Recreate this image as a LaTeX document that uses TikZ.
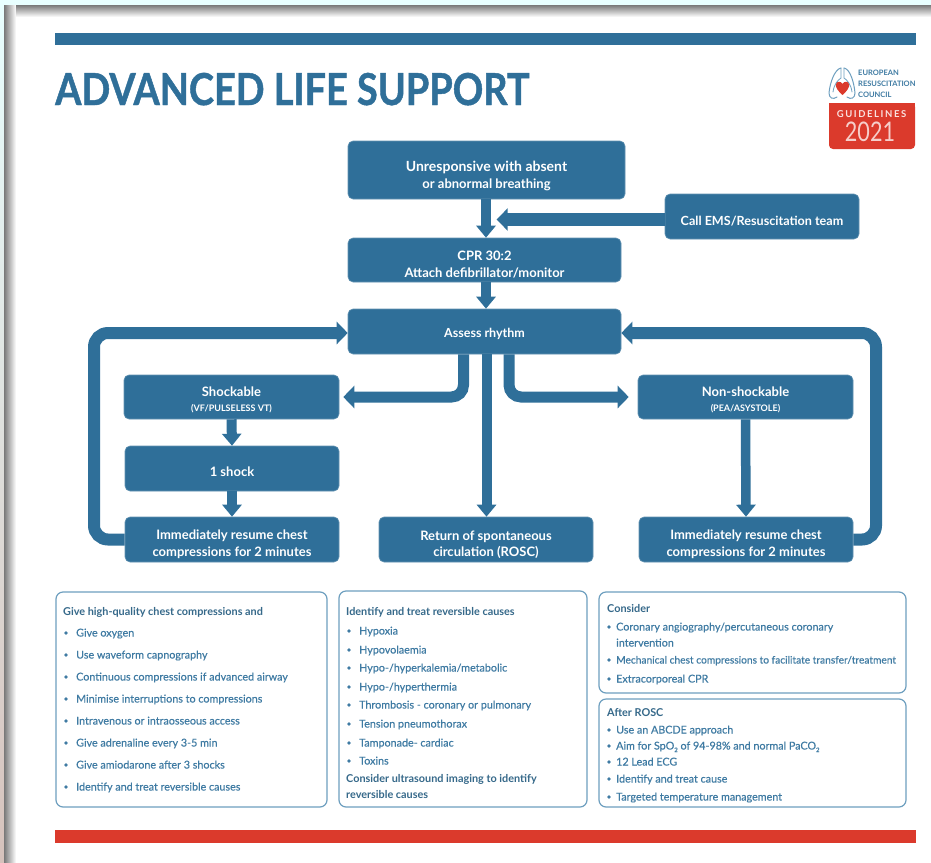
\documentclass[tikz,border=0pt]{standalone}
\usepackage{fontspec}
\setmainfont{Lato}
\newfontfamily\medfont[FakeBold=0.4]{Lato}
\newfontfamily\heavyfont[UprightFont=* Bold,FakeBold=1,FakeStretch=0.86]{Lato}
\newfontfamily\narrowfont[FakeStretch=0.8]{Lato}
\usetikzlibrary{arrows.meta}
\definecolor{ercblue}{HTML}{2F6F99}
\definecolor{ercred}{HTML}{DB3A2C}
\definecolor{infoblue}{HTML}{3F7BA3}
\definecolor{boxedge}{HTML}{6E9FBF}
\definecolor{stripa}{HTML}{E8FFFF}
\definecolor{stripb}{HTML}{E9DCD8}
\definecolor{stripc}{HTML}{D6C2BC}
\tikzset{
  flowbox/.style={fill=ercblue,draw=ercblue!75!white,line width=0.6pt,rounded corners=5pt,inner sep=0pt},
  flowtext/.style={text=white,align=center,inner sep=0pt,font=\bfseries\fontsize{13}{16.5}\selectfont},
  infobox/.style={draw=boxedge,line width=1.2pt,rounded corners=7pt,fill=white,inner sep=0pt},
  flow/.style={draw=ercblue,line width=#1,-{Triangle[width=22pt,length=11pt,fill=ercblue]}},
  flow/.default=12pt,
  flowdown/.style={draw=ercblue,line width=#1,-{Triangle[width=19pt,length=12pt,fill=ercblue]}},
  flowdown/.default=10pt,
  infohead/.style={text=infoblue!85!black,anchor=base west,inner sep=0pt,font=\bfseries\fontsize{10.85}{12}\selectfont},
  infoitem/.style={text=infoblue,anchor=base west,inner sep=0pt,font=\medfont\fontsize{10.75}{12}\selectfont},
  logotext/.style={anchor=base west,inner sep=0pt,text=infoblue,font=\bfseries\fontsize{7.5}{9}\selectfont},
}
% name, x0, y0, x1, y1, text drop, text
\newcommand{\flowat}[7]{\node[flowbox,minimum width=#4 pt-#2 pt,minimum height=#5 pt-#3 pt] (#1) at ({(#2+#4)/2},{(#3+#5)/2}) {};
  \node[flowtext] (#1-text) at ([yshift=-#6 pt]#1.center) {#7};}
\newcommand{\infoat}[5]{\node[infobox,minimum width=#4 pt-#2 pt,minimum height=#5 pt-#3 pt] (#1) at ({(#2+#4)/2},{(#3+#5)/2}) {};}
\newcommand{\headat}[3]{\node[infohead] at (#1,#2+3.5) {#3};}
\newcommand{\itemat}[4]{\fill[infoblue] (#1,#3) circle (1.8pt);\node[infoitem] at (#2,#3+3.5) {#4};}
\newcommand{\subtwo}{\raisebox{-2.5pt}{\fontsize{6}{6}\selectfont 2}}
\begin{document}
\begin{tikzpicture}[x=1pt,y=-1pt]
\useasboundingbox (0,0) rectangle (931,862);
% page background and scan shadow
\fill[white] (0,0) rectangle (931,862);
\fill[stripa] (0,0) rectangle (931,5);
\shade[top color=stripa,middle color=stripb,bottom color=stripc] (0,0) rectangle (4,862);
\shade[left color=gray!95!black,right color=white] (4,5) rectangle (16,862);
\shade[top color=gray!95!black,bottom color=white] (16,5) rectangle (931,17);
% rules
\fill[ercblue] (55,33) rectangle (916,45);
\fill[ercred] (55,830) rectangle (916,843);
% title
\node[anchor=base west,inner sep=0pt,text=ercblue,font=\heavyfont\fontsize{44}{46}\selectfont] (title) at (55,105) {ADVANCED LIFE SUPPORT};
% logo
\draw[boxedge,line width=1pt,line join=round,line cap=round] (841,68) .. controls (835,69) and (830,82) .. (829,93) .. controls (829,98) and (833,100) .. (837,97);
\draw[boxedge,line width=1pt,line join=round,line cap=round] (844,68) .. controls (850,69) and (854,82) .. (855,93) .. controls (855,98) and (851,100) .. (847,97);
\draw[boxedge,line width=0.8pt,line cap=round] (841,68) -- (841,78) .. controls (838,80) and (834,84) .. (833,92);
\draw[boxedge,line width=0.8pt,line cap=round] (844,68) -- (844,78) .. controls (847,80) and (851,84) .. (852,92);
\fill[ercred] (842.5,95) .. controls (838,91) and (835,87) .. (836,84) .. controls (837,81) and (841,81) .. (842.5,84) .. controls (844,81) and (848,81) .. (849,84) .. controls (850,87) and (847,91) .. (842.5,95) -- cycle;
\node[logotext] (erc1) at (858,75.5) {EUROPEAN};
\node[logotext] (erc2) at (858,86) {RESUSCITATION};
\node[logotext] (erc3) at (858,97) {COUNCIL};
\fill[ercred,rounded corners=4pt] (829,103) rectangle (915,149);
\fill[ercred] (829,103) rectangle (915,112);
\node[inner sep=0pt,text=white!85!ercred,font=\bfseries\fontsize{9.5}{11}\selectfont] (gl) at (871.5,114) {G\,U\,I\,D\,E\,L\,I\,N\,E\,S};
\node[inner sep=0pt,text=white!75!ercred,font=\narrowfont\fontsize{27}{28}\selectfont] (yr) at (870,132) {2021};
% flow boxes
\flowat{unresp}{348}{141}{625}{199}{6}{\fontsize{14}{20}\selectfont Unresponsive with absent\\or abnormal breathing}
\flowat{cpr}{348}{238}{621}{282}{4.5}{CPR 30:2\\Attach defibrillator/monitor}
\flowat{call}{665}{194}{859}{239}{4.5}{\fontsize{12.6}{15}\selectfont Call EMS/Resuscitation team}
\flowat{assess}{348}{309}{621}{354}{2.5}{\fontsize{12.5}{15}\selectfont Assess rhythm}
\flowat{shock}{124}{375}{339}{419}{3}{Shockable\\[-2pt]{\fontsize{9}{10}\selectfont (VF/PULSELESS VT)}}
\flowat{oneshock}{125}{446}{339}{491}{3}{1 shock}
\flowat{resl}{125}{517}{339}{562}{5}{Immediately resume chest\\compressions for 2 minutes}
\flowat{rosc}{379}{517}{593}{562}{5}{Return of spontaneous\\circulation (ROSC)}
\flowat{nonshock}{638}{375}{853}{419}{3}{Non-shockable\\[-2pt]{\fontsize{9}{10}\selectfont (PEA/ASYSTOLE)}}
\flowat{resr}{639}{517}{853}{562}{5}{Immediately resume chest\\compressions for 2 minutes}
% loop and branch turning points
\coordinate (lloop) at (94,333);
\coordinate (rloop) at (876,333);
% connectors
\draw[flowdown] ([xshift=-0.5pt]unresp.south) -- ([xshift=1.5pt]cpr.north);
\draw[flow=13pt] ([yshift=-3pt]call.west) -- ++(-168,0);
\draw[flowdown] ([xshift=1.5pt]cpr.south) -- ([xshift=1.5pt]assess.north);
\draw[flow,rounded corners=14pt] (resl.west) -| (lloop) -- ([yshift=-1.5pt]assess.west);
\draw[flow,rounded corners=14pt] (resr.east) -| (rloop) -- ([yshift=-1.5pt]assess.east);
\draw[flowdown] ([xshift=2pt]assess.south) -- ([xshift=2pt]assess.south |- rosc.north);
\draw[flow=11pt,rounded corners=12pt,shorten >=4pt] ([xshift=-21pt]assess.south) |- (shock.east);
\draw[flow=11pt,rounded corners=12pt,shorten >=9pt] ([xshift=24.5pt]assess.south) |- (nonshock.west);
\draw[flowdown] (shock.south) -- (oneshock.north);
\draw[flowdown] (oneshock.south) -- (resl.north);
\draw[flowdown=9.5pt] (nonshock.south) -- ([xshift=0.5pt]nonshock.south |- resr.north);
% info boxes
\infoat{b1}{56}{592}{327}{807}
\infoat{b2}{339}{591}{587}{807}
\infoat{b3}{599}{592}{906}{693}
\infoat{b4}{599}{699}{906}{807}
\headat{63}{612}{Give high-quality chest compressions and}
\itemat{66}{76}{633}{Give oxygen}
\itemat{66}{76}{655}{Use waveform capnography}
\itemat{66}{76}{677}{Continuous compressions if advanced airway}
\itemat{66}{76}{699}{Minimise interruptions to compressions}
\itemat{66}{76}{721}{Intravenous or intraosseous access}
\itemat{66}{76}{743}{Give adrenaline every 3-5 min}
\itemat{66}{76}{765}{Give amiodarone after 3 shocks}
\itemat{66}{76}{787}{Identify and treat reversible causes}
\headat{346}{612}{Identify and treat reversible causes}
\itemat{349}{359}{631}{Hypoxia}
\itemat{349}{359}{650}{Hypovolaemia}
\itemat{349}{359}{668}{Hypo-/hyperkalemia/metabolic}
\itemat{349}{359}{687}{Hypo-/hyperthermia}
\itemat{349}{359}{705}{Thrombosis - coronary or pulmonary}
\itemat{349}{359}{724}{Tension pneumothorax}
\itemat{349}{359}{743}{Tamponade- cardiac}
\itemat{349}{359}{761}{Toxins}
\headat{346}{779}{Consider ultrasound imaging to identify}
\headat{346}{795}{reversible causes}
\headat{607}{609}{Consider}
\itemat{609}{616}{627}{Coronary angiography/percutaneous coronary}
\node[infoitem] at (616,646.5) {intervention};
\itemat{609}{616}{660}{\fontsize{10.2}{12}\selectfont Mechanical chest compressions to facilitate transfer/treatment}
\itemat{609}{616}{679}{Extracorporeal CPR}
\headat{607}{713}{After ROSC}
\itemat{609}{616}{730}{Use an ABCDE approach}
\itemat{609}{616}{746}{Aim for SpO\subtwo{} of 94-98\% and normal PaCO\subtwo}
\itemat{609}{616}{762}{12 Lead ECG}
\itemat{609}{616}{779}{Identify and treat cause}
\itemat{609}{616}{797}{Targeted temperature management}
\end{tikzpicture}
\end{document}
